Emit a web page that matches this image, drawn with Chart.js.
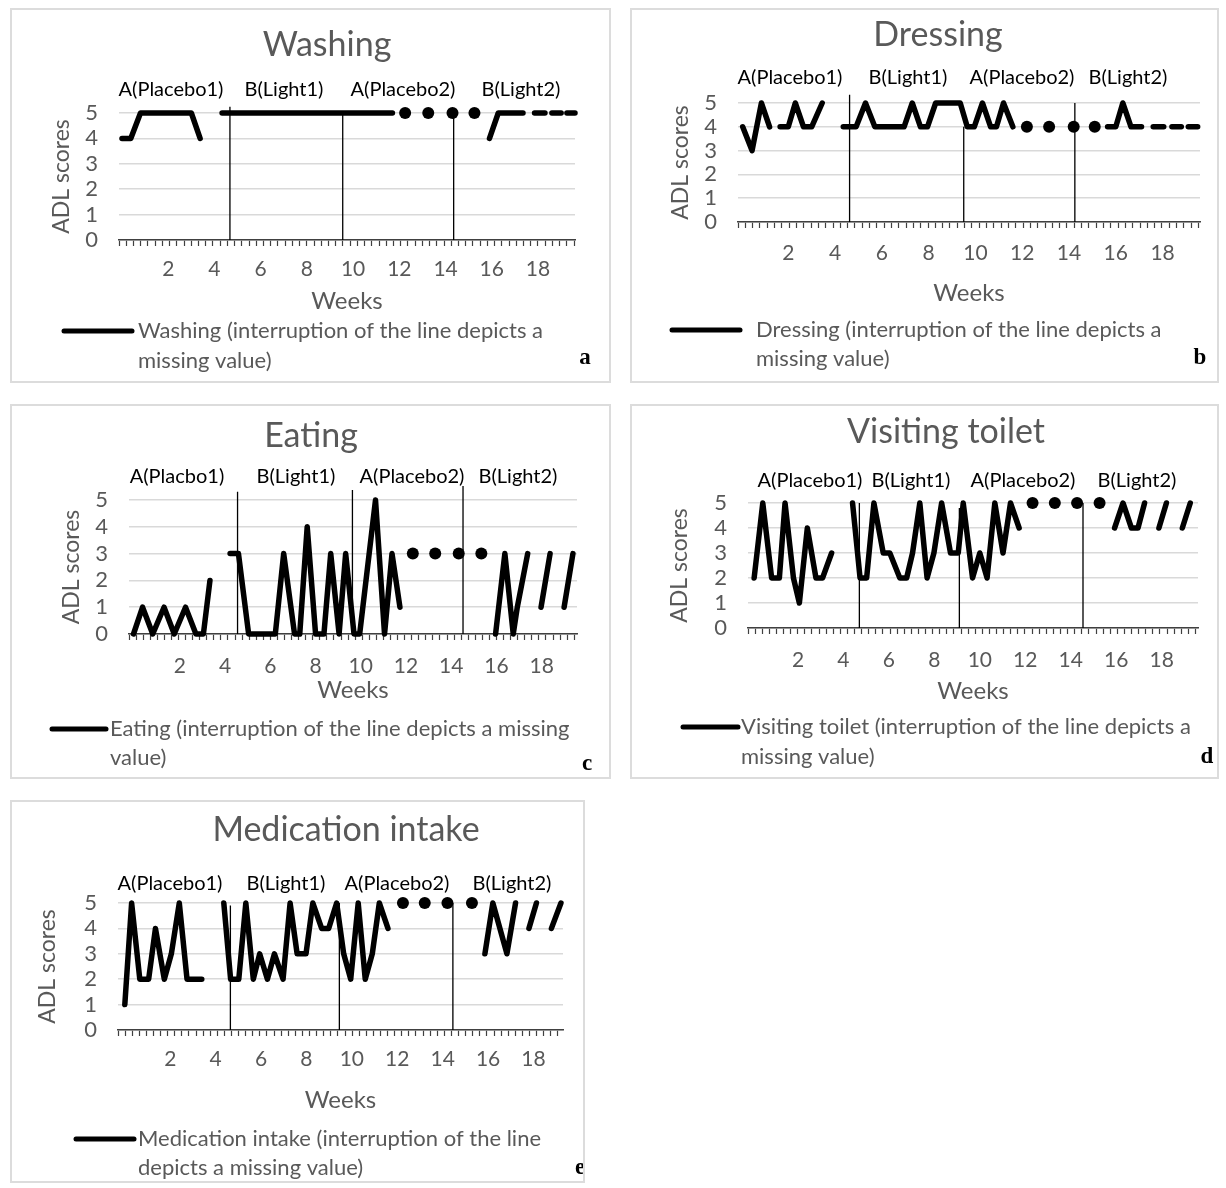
<!DOCTYPE html>
<html>
<head>
<meta charset="utf-8">
<script src="https://cdn.jsdelivr.net/npm/chart.js@4.4.0/dist/chart.umd.min.js"></script>
<style>
  body { margin: 0; background: #fff; width: 1226px; height: 1188px; position: relative; overflow: hidden; }
  .panel { position: absolute; }
  .panel canvas { position: absolute; left: 0; top: 0; }
  .frame { position: absolute; left: 0; top: 0; right: 0; bottom: 0; border: 2px solid #dcdcdc; pointer-events: none; }
</style>
</head>
<body>
<div class="panel" id="pa"><canvas id="ca"></canvas><div class="frame"></div></div>
<div class="panel" id="pb"><canvas id="cb"></canvas><div class="frame"></div></div>
<div class="panel" id="pc"><canvas id="cc"></canvas><div class="frame"></div></div>
<div class="panel" id="pd"><canvas id="cd"></canvas><div class="frame"></div></div>
<div class="panel" id="pe"><canvas id="ce"></canvas><div class="frame"></div></div>
<script>
// phase names and axis labels
const phaseNames = ['A(Placebo1)', 'B(Light1)', 'A(Placebo2)', 'B(Light2)'];
const phaseNamesEating = ['A(Placbo1)', 'B(Light1)', 'A(Placebo2)', 'B(Light2)'];
const weekLabels = [2, 4, 6, 8, 10, 12, 14, 16, 18];
const yMax = 5;

// Washing (a) - null = missing value
const washingWeeks = [0, 0.38, 0.8, 3.0, 3.38, null, 4.33, 11.7, null, 15.9, 16.28, 17.35, null, 17.85, 18.3, null, 18.6, 19.0, null, 19.25, 19.6];
const washingScores = [4, 4, 5, 5, 4, null, 5, 5, null, 4, 5, 5, null, 5, 5, null, 5, 5, null, 5, 5];
const washingDotWeeks = [12.25, 13.25, 14.3, 15.25];
const washingDotScores = [5, 5, 5, 5];
const washingPhaseWeeks = [4.67, 9.55, 14.35];
const washingPhaseTops = [5.25, 5, 5.1];

// Dressing (b)
const dressingWeeks = [0.05, 0.45, 0.85, 1.2, null, 1.65, 2.0, 2.3, 2.65, 3.0, 3.45, null,
  4.35, 4.9, 5.3, 5.7, 6.95, 7.3, 7.65, 7.95, 8.3, 9.35, 9.65, 9.95, 10.3, 10.65, 10.9, 11.2, 11.6, null,
  15.65, 16.0, 16.3, 16.65, 17.1, null, 17.6, 18.05, null, 18.4, 18.8, null, 19.1, 19.5];
const dressingScores = [4, 3, 5, 4, null, 4, 4, 5, 4, 4, 5, null,
  4, 4, 5, 4, 4, 5, 4, 4, 5, 5, 4, 4, 5, 4, 4, 5, 4, null,
  4, 4, 5, 4, 4, null, 4, 4, null, 4, 4, null, 4, 4];
const dressingDotWeeks = [12.2, 13.15, 14.2, 15.1];
const dressingDotScores = [4, 4, 4, 4];
const dressingPhaseWeeks = [4.62, 9.5, 14.25];
const dressingPhaseTops = [5.35, 4, 5];

// Eating (c)
const eatingWeeks = [-0.05, 0.35, 0.8, 1.3, 1.75, 2.25, 2.71, 3.04, 3.33, null,
  4.22, 4.59, 5.04, 6.22, 6.59, 7.07, 7.3, 7.63, 8.0, 8.37, 8.67, 9.04, 9.33, 9.7, 9.95, 10.65, 11.05, 11.38, 11.73, null,
  15.96, 16.37, 16.74, 16.92, 17.38, null, 17.97, 18.37, null, 18.99, 19.38];
const eatingScores = [0, 1, 0, 1, 0, 1, 0, 0, 2, null,
  3, 3, 0, 0, 3, 0, 0, 4, 0, 0, 3, 0, 3, 0, 0, 5, 0, 3, 1, null,
  0, 3, 0, 1, 3, null, 1, 3, null, 1, 3];
const eatingDotWeeks = [12.3, 13.29, 14.33, 15.33];
const eatingDotScores = [3, 3, 3, 3];
const eatingPhaseWeeks = [4.55, 9.63, 14.52];
const eatingPhaseTops = [5.31, 5.37, 5.52];

// Visiting toilet (d)
const toiletWeeks = [0.07, 0.45, 0.84, 1.18, 1.43, 1.8, 2.06, 2.41, 2.79, 3.08, 3.48, null,
  4.4, 4.73, 5.02, 5.34, 5.75, 6.04, 6.48, 6.78, 7.04, 7.36, 7.68, 7.98, 8.32, 8.71, 9.05, 9.27,
  9.68, 10.0, 10.32, 10.66, 11.02, 11.35, 11.73, null,
  15.93, 16.3, 16.67, 16.96, 17.25, null, 17.88, 18.21, null, 18.91, 19.26];
const toiletScores = [2, 5, 2, 2, 5, 2, 1, 4, 2, 2, 3, null,
  5, 2, 2, 5, 3, 3, 2, 2, 3, 5, 2, 3, 5, 3, 3, 5,
  2, 3, 2, 5, 3, 5, 4, null,
  4, 5, 4, 4, 5, null, 4, 5, null, 4, 5];
const toiletDotWeeks = [12.32, 13.3, 14.28, 15.27];
const toiletDotScores = [5, 5, 5, 5];
const toiletPhaseWeeks = [4.7, 9.1, 14.54];
const toiletPhaseTops = [5, 4.8, 5];

// Medication intake (e)
const medWeeks = [0, 0.3, 0.66, 1.05, 1.35, 1.74, 2.05, 2.4, 2.74, 3.39, null,
  4.36, 4.66, 5.02, 5.33, 5.66, 5.94, 6.28, 6.59, 6.97, 7.28, 7.59, 7.98, 8.28, 8.67, 8.98, 9.33,
  9.64, 9.95, 10.28, 10.59, 10.9, 11.21, 11.59, null,
  15.86, 16.21, 16.83, 17.21, null, 17.8, 18.13, null, 18.79, 19.21];
const medScores = [1, 5, 2, 2, 4, 2, 3, 5, 2, 2, null,
  5, 2, 2, 5, 2, 3, 2, 3, 2, 5, 3, 3, 5, 4, 4, 5,
  3, 2, 5, 2, 3, 5, 4, null,
  3, 5, 3, 5, null, 4, 5, null, 4, 5];
const medDotWeeks = [12.25, 13.21, 14.21, 15.29];
const medDotScores = [5, 5, 5, 5];
const medPhaseWeeks = [4.65, 9.45, 14.45];
const medPhaseTops = [4.9, 5, 5];

const GRAY = '#595959';
const FONT = 'Lato';
const minorStep = 0.3125;
Chart.defaults.font.family = FONT;

function toPoints(weeks, scores) {
  let last = 0;
  return weeks.map((w, i) => {
    if (w === null) return { x: last, y: null };
    last = w;
    return { x: w, y: scores[i] };
  });
}

function phasePoints(weeks, tops) {
  const pts = [];
  weeks.forEach((w, i) => {
    pts.push({ x: w, y: 0 }, { x: w, y: tops[i] }, { x: w, y: null });
  });
  return pts;
}

function weekTicks(min, max) {
  const ticks = [];
  for (let v = min; v <= max + 1e-6; v += minorStep) ticks.push({ value: v });
  weekLabels.forEach(w => ticks.push({ value: w, isLabel: true }));
  return ticks.sort((a, b) => a.value - b.value);
}

// per panel layout (pixels relative to each panel box)
const panels = [
  { id: 'pa', canvas: 'ca', box: [10, 8, 601, 375], area: [109, 105, 565, 232], range: [-0.13, 19.6],
    title: 'Washing', titleAt: [317, 37], names: phaseNames, phaseY: 82, phaseX: [161, 274, 393, 511],
    labPad: 11, weeksY: 293, yTitleX: 52,
    legend: { x1: 54, x2: 122, tx: 128, y1: 323, y2: 353, lines: ['Washing (interruption of the line depicts a', 'missing value)'] },
    letter: ['a', 575, 350],
    weeks: washingWeeks, scores: washingScores, dotWeeks: washingDotWeeks, dotScores: washingDotScores,
    phaseWeeks: washingPhaseWeeks, phaseTops: washingPhaseTops },
  { id: 'pb', canvas: 'cb', box: [630, 8, 589, 375], area: [108, 95, 570, 214], range: [-0.15, 19.6],
    title: 'Dressing', titleAt: [308, 27], names: phaseNames, phaseY: 70, phaseX: [160, 278, 392, 498],
    labPad: 13, weeksY: 285, yTitleX: 51,
    legend: { x1: 42, x2: 110, tx: 126, y1: 322, y2: 351, lines: ['Dressing (interruption of the line depicts a', 'missing value)'] },
    letter: ['b', 570, 350],
    weeks: dressingWeeks, scores: dressingScores, dotWeeks: dressingDotWeeks, dotScores: dressingDotScores,
    phaseWeeks: dressingPhaseWeeks, phaseTops: dressingPhaseTops },
  { id: 'pc', canvas: 'cc', box: [10, 404, 601, 375], area: [119, 96, 567, 230], range: [-0.25, 19.56],
    title: 'Eating', titleAt: [301, 32], names: phaseNamesEating, phaseY: 73, phaseX: [167, 286, 402, 508],
    labPad: 14, weeksY: 286, yTitleX: 62,
    legend: { x1: 42, x2: 96, tx: 100, y1: 325, y2: 354, lines: ['Eating (interruption of the line depicts a missing', 'value)'] },
    letter: ['c', 577, 360],
    weeks: eatingWeeks, scores: eatingScores, dotWeeks: eatingDotWeeks, dotScores: eatingDotScores,
    phaseWeeks: eatingPhaseWeeks, phaseTops: eatingPhaseTops },
  { id: 'pd', canvas: 'cd', box: [630, 404, 589, 375], area: [118, 99, 568, 224], range: [-0.2, 19.6],
    title: 'Visiting toilet', titleAt: [316, 28], names: phaseNames, phaseY: 77, phaseX: [180, 281, 393, 507],
    labPad: 14, weeksY: 287, yTitleX: 50,
    legend: { x1: 53, x2: 108, tx: 111, y1: 323, y2: 353, lines: ['Visiting toilet (interruption of the line depicts a', 'missing value)'] },
    letter: ['d', 577, 353],
    weeks: toiletWeeks, scores: toiletScores, dotWeeks: toiletDotWeeks, dotScores: toiletDotScores,
    phaseWeeks: toiletPhaseWeeks, phaseTops: toiletPhaseTops },
  { id: 'pe', canvas: 'ce', box: [10, 800, 575, 383], area: [108, 103, 553, 230], range: [-0.3, 19.3],
    title: 'Medication intake', titleAt: [336, 30], names: phaseNames, phaseY: 84, phaseX: [160, 276, 387, 502],
    labPad: 11, weeksY: 300, yTitleX: 38,
    legend: { x1: 66, x2: 124, tx: 128, y1: 339, y2: 368, lines: ['Medication intake (interruption of the line', 'depicts a missing value)'] },
    letter: ['e', 570, 368],
    weeks: medWeeks, scores: medScores, dotWeeks: medDotWeeks, dotScores: medDotScores,
    phaseWeeks: medPhaseWeeks, phaseTops: medPhaseTops }
];

// titles, phase names, legend and panel letter
function panelText(p) {
  return {
    id: 'panelText',
    afterDraw(chart) {
      const ctx = chart.ctx;
      ctx.save();
      ctx.textAlign = 'center';
      ctx.textBaseline = 'middle';
      ctx.fillStyle = GRAY;
      ctx.font = '34px ' + FONT;
      ctx.fillText(p.title, p.titleAt[0], p.titleAt[1]);

      ctx.fillStyle = '#000';
      ctx.font = '20px ' + FONT;
      p.names.forEach((n, i) => ctx.fillText(n, p.phaseX[i], p.phaseY));

      const lg = p.legend;
      ctx.strokeStyle = '#000';
      ctx.lineWidth = 5;
      ctx.lineCap = 'round';
      ctx.beginPath();
      ctx.moveTo(lg.x1, lg.y1);
      ctx.lineTo(lg.x2, lg.y1);
      ctx.stroke();
      ctx.textAlign = 'left';
      ctx.fillStyle = GRAY;
      ctx.font = '22px ' + FONT;
      ctx.fillText(lg.lines[0], lg.tx, lg.y1);
      ctx.fillText(lg.lines[1], lg.tx, lg.y2);

      ctx.textAlign = 'center';
      ctx.fillStyle = '#000';
      ctx.font = 'bold 23px "Liberation Serif"';
      ctx.fillText(p.letter[0], p.letter[1], p.letter[2]);
      ctx.restore();
    }
  };
}

panels.forEach(p => {
  const [bx, by, bw, bh] = p.box;
  const el = document.getElementById(p.id);
  el.style.left = bx + 'px';
  el.style.top = by + 'px';
  el.style.width = bw + 'px';
  el.style.height = bh + 'px';
  const canvas = document.getElementById(p.canvas);
  canvas.width = bw;
  canvas.height = bh;

  const [left, top, right, bottom] = p.area;
  const titleSize = 24;
  const xHeight = p.weeksY + titleSize * 0.6 - bottom;
  const [xMin, xMax] = p.range;

  new Chart(canvas, {
    type: 'line',
    data: {
      datasets: [
        {
          data: toPoints(p.weeks, p.scores),
          borderColor: '#000',
          borderWidth: 5.5,
          borderJoinStyle: 'round',
          borderCapStyle: 'round',
          pointRadius: 0,
          spanGaps: false,
          clip: false,
          order: 0
        },
        {
          data: toPoints(p.dotWeeks, p.dotScores),
          showLine: false,
          pointRadius: 6,
          pointBackgroundColor: '#000',
          pointBorderWidth: 0,
          clip: false,
          order: 1
        },
        {
          data: phasePoints(p.phaseWeeks, p.phaseTops),
          borderColor: '#000',
          borderWidth: 1.3,
          pointRadius: 0,
          spanGaps: false,
          clip: false,
          order: 2
        }
      ]
    },
    options: {
      responsive: false,
      animation: false,
      events: [],
      layout: { padding: { left: 0, top: top, right: bw - right, bottom: bh - bottom - xHeight } },
      plugins: { legend: { display: false }, tooltip: { enabled: false }, title: { display: false } },
      scales: {
        x: {
          type: 'linear',
          min: xMin,
          max: xMax,
          afterFit: s => { s.height = xHeight; },
          afterBuildTicks: s => { s.ticks = weekTicks(xMin, xMax); },
          ticks: {
            autoSkip: false,
            maxRotation: 0,
            padding: p.labPad,
            color: GRAY,
            font: { size: 21 },
            callback: (v, i, t) => (t[i] && t[i].isLabel ? String(v) : '')
          },
          grid: {
            drawOnChartArea: false,
            drawTicks: true,
            tickLength: 6,
            tickWidth: 1.2,
            tickColor: c => (c.tick && c.tick.isLabel ? 'rgba(0,0,0,0)' : '#404040')
          },
          border: { color: '#404040', width: 1.5 },
          title: { display: true, text: 'Weeks', color: GRAY, font: { size: titleSize }, padding: 0 }
        },
        y: {
          min: 0,
          max: yMax,
          afterFit: s => { s.width = left; },
          ticks: { stepSize: 1, autoSkip: false, padding: 21, color: GRAY, font: { size: 22 } },
          grid: { color: '#d9d9d9', lineWidth: 1.5, drawTicks: false },
          border: { display: false },
          title: {
            display: true, text: 'ADL scores', color: GRAY, font: { size: 23 },
            padding: { top: p.yTitleX - 23 * 0.6, bottom: 0 }
          }
        }
      }
    },
    plugins: [panelText(p)]
  });
});
</script>
</body>
</html>
